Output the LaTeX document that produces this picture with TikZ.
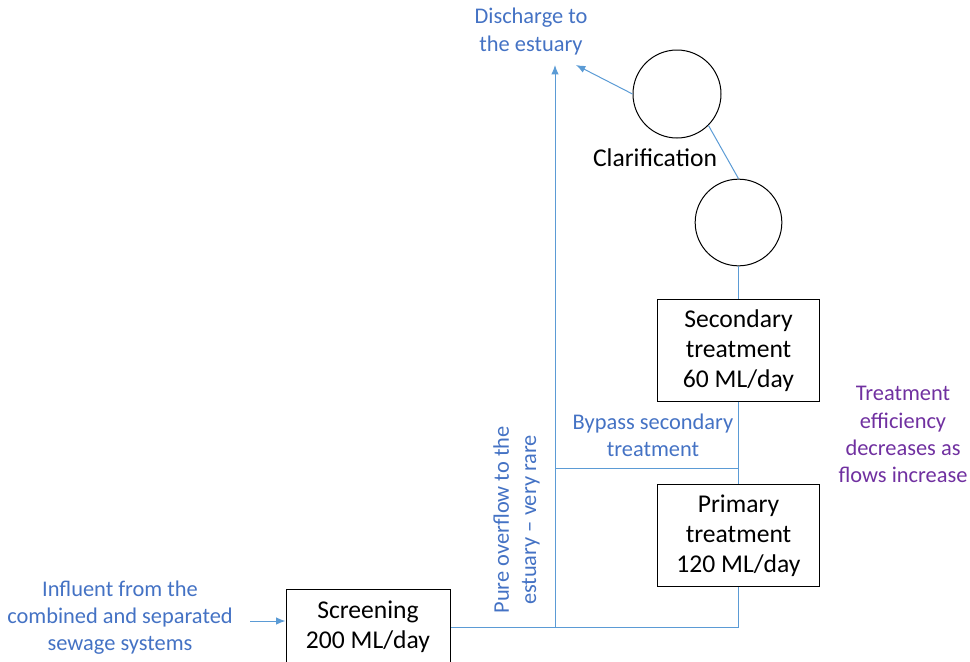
\documentclass[tikz,border=0pt]{standalone}
\usepackage{fontspec}
\setmainfont{Carlito}
\usetikzlibrary{arrows.meta,positioning,calc}
\definecolor{flowblue}{RGB}{91,155,213}
\definecolor{txtblue}{RGB}{68,114,196}
\definecolor{txtpurple}{RGB}{112,48,160}
\tikzset{
block/.style = {draw, fill=white, rectangle, line width=0.75pt, align=center, minimum width=121pt, font=\fontsize{19.2}{22.5}\selectfont},
tank/.style = {draw, fill=white, circle, line width=0.75pt, minimum size=65pt, inner sep=0pt},
note/.style = {text=txtblue, align=center, font=\fontsize{16.8}{20.4}\selectfont},
flow/.style = {draw=flowblue, line width=0.75pt},
tmp/.style  = {coordinate}
}
\begin{document}
\begin{tikzpicture}[x=0.75pt, y=-0.75pt, >={Latex[length=7pt,width=5.5pt]}]
    \useasboundingbox (0,0) rectangle (970,661);
    \node [block, minimum width=123pt, minimum height=57pt] (screen) at (368,627) {Screening\\200 ML/day};
    \node [block, minimum height=77pt] (prim) at (738.5,535.5) {Primary\\treatment\\120 ML/day};
    \node [block, minimum height=76pt, above of=prim, node distance=138.75pt] (sec) {Secondary\\treatment\\60 ML/day};
    \node [tank, above of=sec, node distance=96pt] (cdown) {};
    \node [tank, minimum size=66pt] (cup) at (677,94) {};
    \node [font=\fontsize{19.2}{22.5}\selectfont] (clar) at (655,158) {Clarification};
    % labels
    \node [note] (dis) at (531,31.5) {Discharge to\\the estuary};
    \node [note] (infl) at (120,617.5) {Influent from the\\combined and separated\\sewage systems};
    \node [note, rotate=90] (ovf) at (516.5,520) {Pure overflow to the\\estuary -- very rare};
    \node [note] (bypass) at (653,435.5) {Bypass secondary\\treatment};
    \node [note, text=txtpurple] (eff) at (903,434.5) {Treatment\\efficiency\\decreases as\\flows increase};
    % connector points
    \node [tmp] (inflend) at (250,621) {};
    \node [tmp] (ovftop) at (555,65) {};
    \node [tmp] (distip) at (576,65) {};
    \node [tmp] (bp) at (738.5,468) {};
    \draw [flow, ->] (inflend) -- (screen.west |- inflend);
    \draw [flow] (prim.south) |- (screen.east);
    \draw [flow, ->] (ovftop |- screen.east) -- (ovftop);
    \draw [flow] (bp) -- (bp -| ovftop);
    \draw [flow] (sec.south) -- (prim.north);
    \draw [flow] (cdown.south) -- (sec.north);
    \draw [flow] (cup.-45) -- (cdown.north);
    \draw [flow, ->] (cup.west) -- (distip);
\end{tikzpicture}
\end{document}
